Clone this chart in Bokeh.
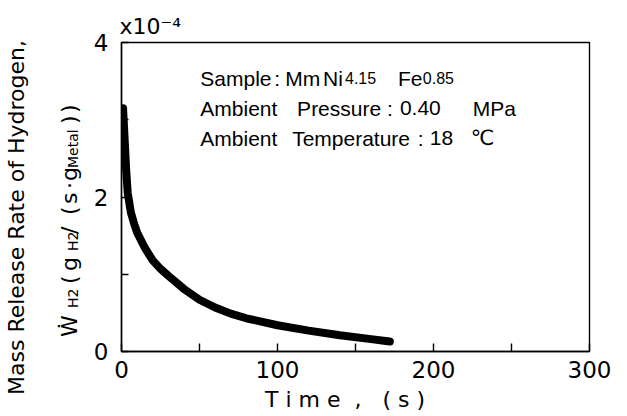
from bokeh.plotting import figure
from bokeh.layouts import row
from bokeh.models import Range1d, FixedTicker, Label, Div
from bokeh.embed import file_html
from bokeh.resources import INLINE

# ---- data ----
time_s = [1, 2, 3, 4, 6, 8, 10, 15, 20, 25, 30, 40, 50, 60, 70, 80, 100, 120, 140, 160, 172]
rate_e4 = [3.15, 2.75, 2.35, 2.05, 1.80, 1.66, 1.54, 1.34, 1.18, 1.07, 0.98, 0.81, 0.67,
           0.57, 0.49, 0.43, 0.34, 0.27, 0.21, 0.16, 0.13]

x_ticks = [0, 50, 100, 150, 200, 250, 300]
x_tick_labels = ["0", "", "100", "", "200", "", "300"]
y_ticks = [0, 1, 2, 3, 4]
y_tick_labels = ["0", "", "2", "", "4"]

FONT = "DejaVu Sans"
FONT2 = "Liberation Sans"
NB = "\u00A0"

TOTAL_W, H = 625, 414
LW = 90                       # left strip holding the y-axis title
MW = TOTAL_W - LW             # main figure width
FL, FR, FT, FB = 120, 589, 42, 352   # frame edges in page pixels
X0, X1, Y0, Y1 = 0, 300, 0, 4

# ---------------- main figure ----------------
p = figure(width=MW, height=H, x_range=Range1d(X0, X1), y_range=Range1d(Y0, Y1),
           output_backend="svg", toolbar_location=None,
           min_border_left=FL - LW, min_border_right=TOTAL_W - FR,
           min_border_top=FT, min_border_bottom=H - FB)
p.grid.visible = False
p.outline_line_color = "black"
p.outline_line_width = 1.4
p.background_fill_color = "white"
p.border_fill_color = "white"

for ax, ticks, labs in ((p.xaxis[0], x_ticks, x_tick_labels), (p.yaxis[0], y_ticks, y_tick_labels)):
    ax.ticker = FixedTicker(ticks=ticks)
    ax.major_label_overrides = {t: s for t, s in zip(ticks, labs)}
    ax.minor_tick_line_color = None
    ax.major_tick_out = 0
    ax.axis_line_color = "black"
    ax.axis_line_width = 1.4
    ax.major_tick_line_color = "black"
    ax.major_tick_line_width = 1.4
    ax.major_label_text_font = FONT
    ax.major_label_text_font_size = "23px"
    ax.major_label_text_color = "black"
p.xaxis.major_tick_in = 8
p.yaxis.major_tick_in = 7
p.xaxis.major_label_standoff = 9
p.yaxis.major_label_standoff = 13

p.xaxis.axis_label = NB.join("Time") + NB * 2 + "," + NB * 3 + NB.join("(s)") + NB * 3
p.xaxis.axis_label_text_font = FONT
p.xaxis.axis_label_text_font_size = "22px"
p.xaxis.axis_label_text_font_style = "normal"
p.xaxis.axis_label_text_color = "black"
p.xaxis.axis_label_standoff = 6

p.title.text = "x10\u207B\u2074"
p.title.align = "left"
p.title.text_font = FONT
p.title.text_font_size = "22px"
p.title.text_font_style = "normal"
p.title.text_color = "black"
p.title.offset = -2
p.title.standoff = 8

p.line(time_s, rate_e4, line_width=8, line_color="black", line_cap="round", line_join="round")

def fx(px):
    return X0 + (px - FL) * (X1 - X0) / (FR - FL)

def fy(py):
    return Y0 + (FB - py) * (Y1 - Y0) / (FB - FT)

def lab(text, px, py, size, font=FONT2):
    p.add_layout(Label(x=fx(px), y=fy(py), text=text, text_font=font,
                       text_font_size=f"{size}px", text_color="black",
                       text_align="left", text_baseline="alphabetic"))

# annotation block
for text, px, size in [("Sample", 199, 21), (":", 273, 21), ("Mm", 284, 21), ("Ni", 322, 21),
                       ("4.15", 344, 16), ("Fe", 397, 21), ("0.85", 422, 16)]:
    lab(text, px, 78, size)
for text, px in [("Ambient", 199), ("Pressure", 296), (":", 386), ("0.40", 399), ("MPa", 472)]:
    lab(text, px, 108, 21)
for text, px in [("Ambient", 199), ("Temperature", 291), (":", 417), ("18", 429)]:
    lab(text, px, 138, 21)
lab("\u2103", 470, 138, 21, font=FONT)

# ---------------- left strip: y-axis title (rotated HTML text) ----------------
def rot(text, base_x, start_y, size):
    left = base_x - 0.846 * size
    return (f'<div style="position:absolute;left:{left:.1f}px;top:{start_y}px;'
            f'transform-origin:0 0;transform:rotate(-90deg);white-space:nowrap;'
            f'font-family:\'DejaVu Sans\';font-size:{size}px;line-height:1;color:#000;">{text}</div>')

pieces = [("Mass Release Rate of Hydrogen,", 25, 395, 22),
          ("\u1E86", 78, 337, 22), ("H2", 78, 308, 14), ("(", 78, 284, 22), ("g", 78, 271, 22),
          ("H2", 78, 251, 14), ("/", 78, 234, 22), ("(", 78, 215, 22), ("s", 78, 204, 22),
          ("\u00B7", 78, 189, 22), ("g", 78, 181, 22), ("Metal", 78, 168, 14),
          (")", 78, 124, 22), (")", 78, 113, 22)]
html = (f'<div style="position:relative;width:{LW}px;height:{H}px;background:#fff;">'
        + "".join(rot(*pc) for pc in pieces) + "</div>")
ydiv = Div(text=html, width=LW, height=H, margin=0)

layout = row(ydiv, p, spacing=0)
open("out.html", "w").write(file_html(layout, INLINE))
